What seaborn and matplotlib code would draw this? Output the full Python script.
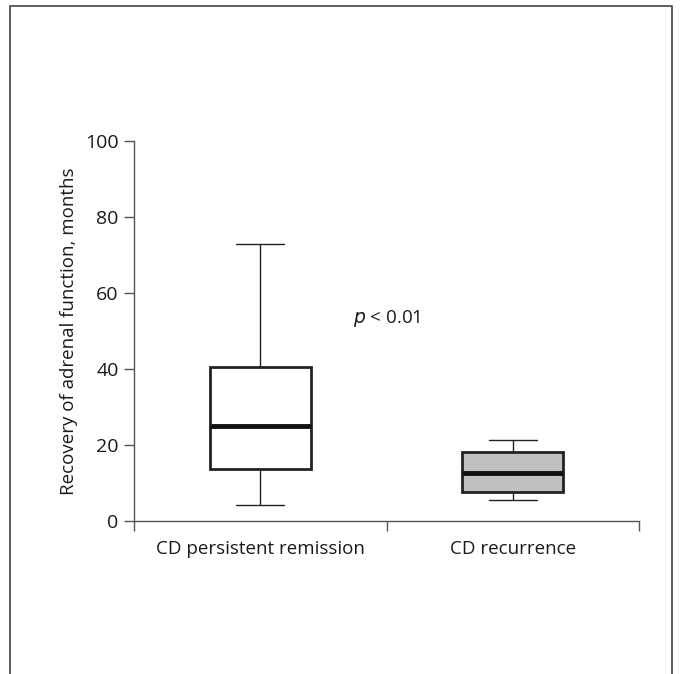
import numpy as np
import pandas as pd
import seaborn as sns
import matplotlib.pyplot as plt
from matplotlib.patches import Rectangle

# five-number summaries (min, Q1, median, Q3, max)
groups = ["CD persistent remission", "CD recurrence"]
remission = [4.2, 13.7, 25.0, 40.5, 73.0]
recurrence = [5.5, 7.7, 12.7, 18.2, 21.2]
box_colors = ["white", "#c0c0c0"]
y_ticks = [0, 20, 40, 60, 80, 100]

sns.set_style("white")
plt.rcParams["font.family"] = ["Open Sans", "DejaVu Sans"]
plt.rcParams["text.color"] = "#1a1a1a"
plt.rcParams["xtick.labelcolor"] = "#1a1a1a"
plt.rcParams["ytick.labelcolor"] = "#1a1a1a"
plt.rcParams["axes.labelcolor"] = "#1a1a1a"

data = pd.DataFrame({
    "group": [groups[0]] * len(remission) + [groups[1]] * len(recurrence),
    "months": remission + recurrence,
})

fig = plt.figure(figsize=(6.8, 6.74), dpi=100)
ax = fig.add_axes([0.197, 0.227, 0.743, 0.564])

sns.boxplot(
    data=data, x="group", y="months", hue="group", palette=box_colors,
    width=0.4, whis=np.inf, linecolor="#222222", linewidth=1.0,
    boxprops=dict(linewidth=2.0), medianprops=dict(linewidth=3.5, color="#111111"),
    whiskerprops=dict(linewidth=1.0), capprops=dict(linewidth=1.0),
    capwidths=0.19, ax=ax, legend=False,
)

ax.set_xlim(-0.5, 1.5)
ax.set_ylim(0, 100)
ax.set_yticks(y_ticks)
ax.set_xticks([0, 1])
ax.set_xticklabels(groups, fontsize=13.5)
ax.set_xticks([-0.5, 0.5, 1.5], minor=True)
ax.tick_params(axis="x", which="major", bottom=False, length=0, pad=14)
ax.tick_params(axis="x", which="minor", bottom=True, direction="out", length=7, width=1, color="#555555")
ax.tick_params(axis="y", left=True, direction="out", length=7, width=1, color="#555555", labelsize=14, pad=4)
ax.set_xlabel("")
ax.set_ylabel("Recovery of adrenal function, months", fontsize=13.5, labelpad=5)

for side in ["top", "right"]:
    ax.spines[side].set_visible(False)
for side in ["left", "bottom"]:
    ax.spines[side].set_color("#555555")
    ax.spines[side].set_linewidth(1.0)

ax.text(0.5, 53.2, r"$\it{p}$ < 0.01", ha="center", va="center", fontsize=13.5)

# frame around the whole panel (bottom edge is cut off in the source)
fig.patches.append(Rectangle((10 / 680, -0.05), (672 - 10) / 680, 1 - 6 / 674 + 0.05,
                             transform=fig.transFigure, fill=False,
                             edgecolor="#444444", linewidth=1.2))

fig.savefig("out.png", dpi=100)
